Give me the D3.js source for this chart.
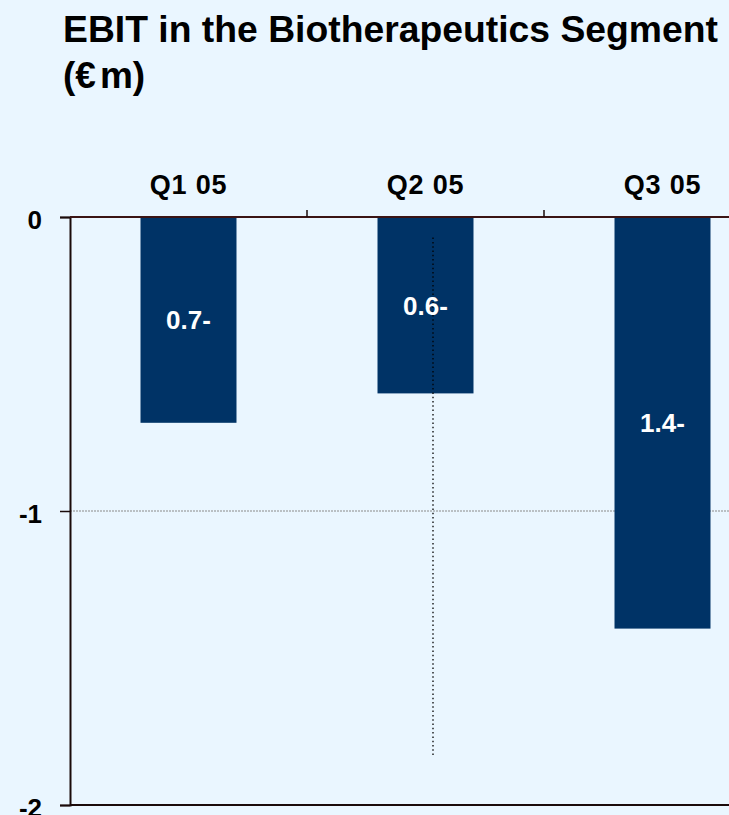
<!DOCTYPE html>
<html><head><meta charset="utf-8">
<script src="https://cdn.jsdelivr.net/npm/d3@7"></script>
<style>
html,body{margin:0;padding:0;background:#EAF6FF;}
svg{display:block;font-family:"Liberation Sans",Arial,sans-serif;}
</style></head>
<body><svg id="chart" width="729" height="815"></svg>
<script>
const categories = ["Q1 05", "Q2 05", "Q3 05"];
const values = [-0.7, -0.6, -1.4];
const valueLabels = ["0.7-", "0.6-", "1.4-"];
const yTicks = [0, -1, -2];
const yTickLabels = ["0", "-1", "-2"];
const titleLines = ["EBIT in the Biotherapeutics Segment", "(€m)"];

(function () {
const svg = d3.select("#chart");
const W = 729, H = 815;
const FONT = "Liberation Sans, Arial, sans-serif";
svg.append("rect").attr("width", W).attr("height", H).attr("fill", "#EAF6FF");

const mLeft = 70, mTop = 217, mBottom = 805, step = 237;
const x = d3.scaleBand().domain(categories).range([mLeft, mLeft + step * categories.length]).paddingInner(0.595).paddingOuter(0.2975);
const y = d3.scaleLinear().domain([0, -2]).range([mTop, mBottom]);

// title
const title = svg.append("g").attr("font-size", 37).attr("font-weight", "bold").attr("fill", "#000").attr("font-family", FONT);
title.append("text").attr("x", 63).attr("y", 42).attr("textLength", 655).attr("lengthAdjust", "spacingAndGlyphs").text(titleLines[0]);
const t2 = title.append("text").attr("x", 63).attr("y", 88);
t2.append("tspan").text(titleLines[1].slice(0, 2));
t2.append("tspan").attr("dx", 4).text(titleLines[1].slice(2));

// gridline at -1
svg.append("line").attr("x1", mLeft).attr("x2", W).attr("y1", y(-1)).attr("y2", y(-1))
  .attr("stroke", "#8a8a8a").attr("stroke-width", 1.2).attr("stroke-dasharray", "2,1");

// bars
svg.append("g").selectAll("rect").data(values).join("rect")
  .attr("x", (d, i) => x(categories[i]))
  .attr("width", x.bandwidth())
  .attr("y", y(0))
  .attr("height", d => y(d) - y(0))
  .attr("fill", "#003366");

// dotted vertical line
svg.append("line").attr("x1", 433).attr("x2", 433).attr("y1", y(-0.07)).attr("y2", y(-1.84))
  .attr("stroke", "#000").attr("stroke-width", 1.3).attr("stroke-dasharray", "1.5,2.8");

// value labels (centred in each bar)
svg.append("g").selectAll("text").data(values).join("text")
  .attr("x", (d, i) => x(categories[i]) + x.bandwidth() / 2)
  .attr("y", d => y(d / 2))
  .attr("dy", "0.36em")
  .attr("text-anchor", "middle").attr("font-size", 26).attr("font-weight", "bold").attr("fill", "#fff")
  .attr("font-family", FONT)
  .text((d, i) => valueLabels[i]);

// y axis
const yAxis = d3.axisLeft(y).tickValues(yTicks).tickFormat((d, i) => yTickLabels[i]).tickSize(10).tickPadding(18);
const ga = svg.append("g").attr("transform", `translate(${mLeft},0)`).call(yAxis);
ga.select(".domain").attr("stroke", "#1a0a0a").attr("stroke-width", 2);
ga.selectAll(".tick line").attr("stroke", "#1a0a0a").attr("stroke-width", 1.5);
ga.selectAll(".tick text").attr("font-size", 26).attr("font-weight", "bold").attr("fill", "#000")
  .attr("font-family", FONT).attr("dy", "0.46em");

// top axis (zero line) with category labels
const xAxis = d3.axisTop(x).tickSize(0).tickPadding(23);
const gx = svg.append("g").attr("transform", `translate(0,${y(0)})`).call(xAxis);
gx.select(".domain").remove();
gx.selectAll(".tick text").attr("font-size", 27).attr("font-weight", "bold").attr("fill", "#000")
  .attr("font-family", FONT).attr("dy", 0).attr("letter-spacing", "0.8px");
svg.append("line").attr("x1", mLeft).attr("x2", W).attr("y1", y(0)).attr("y2", y(0))
  .attr("stroke", "#3a1414").attr("stroke-width", 2);
svg.append("g").selectAll("line").data(categories.slice(1)).join("line")
  .attr("x1", d => x(d) - x.step() * x.paddingInner() / 2).attr("x2", d => x(d) - x.step() * x.paddingInner() / 2)
  .attr("y1", y(0)).attr("y2", y(0) - 7)
  .attr("stroke", "#1a0a0a").attr("stroke-width", 1.5);

// bottom line
svg.append("line").attr("x1", mLeft).attr("x2", W).attr("y1", y(-2)).attr("y2", y(-2))
  .attr("stroke", "#1a0a0a").attr("stroke-width", 2);
})();
</script></body></html>
